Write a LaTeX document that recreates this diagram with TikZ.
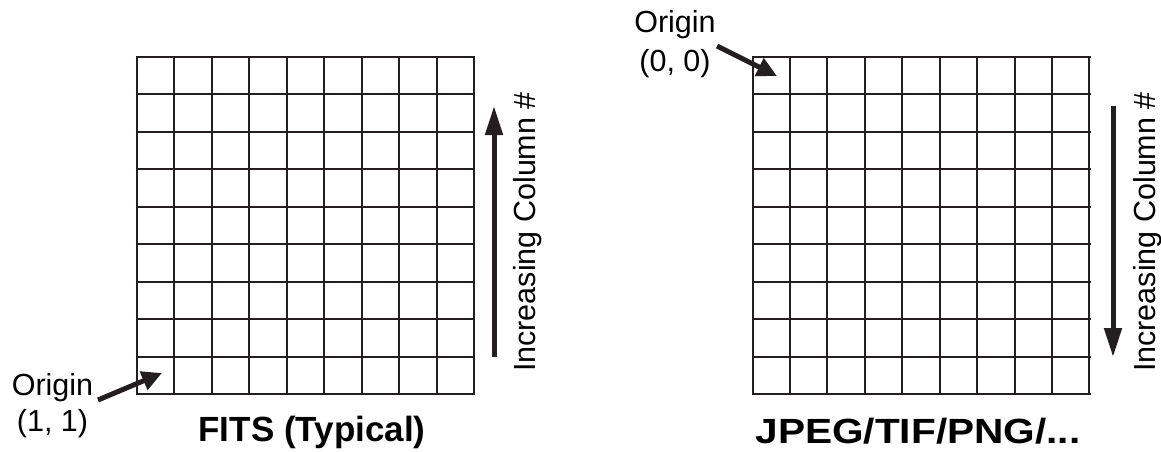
\documentclass[tikz,border=0pt]{standalone}
\usepackage{fontspec}
\setmainfont{Liberation Sans}
\usetikzlibrary{arrows.meta}
\definecolor{ink}{HTML}{231F20}
\begin{document}
\begin{tikzpicture}[x=1pt,y=-1pt,
  gridline/.style={draw=ink,line width=2pt,line cap=rect},
  bigarrow/.style={draw=ink,line width=5pt,-{Triangle[length=29pt,width=17pt]}},
  smallarrow/.style={draw=ink,line width=5pt,-{Triangle[length=20pt,width=19pt]}},
  label/.style={font=\fontsize{30.5}{36}\selectfont,inner sep=0pt,anchor=base,text=black},
  title/.style={font=\fontsize{35}{40}\selectfont\bfseries,inner sep=0pt,anchor=base,text=black}]
\useasboundingbox (0,0) rectangle (1161,452);
% grids
\foreach \gx in {137,752.5}{
  \foreach \k in {0,...,9}{
    \draw[gridline] (\gx+\k*37.44,57) -- (\gx+\k*37.44,394);
    \draw[gridline] (\gx,57+\k*37.44) -- (\gx+337,57+\k*37.44);
  }
}
% left labels
\node[label] (oL) at (52.5,395) {Origin};
\node[label] (oLc) at (52.5,431) {(1, 1)};
\coordinate (oLtail) at (98,400);
\coordinate (oLtip) at (162,373);
\draw[smallarrow] (oLtail) -- (oLtip);
\node[title] (tL) at (312,441) {FITS (Typical)};
\coordinate (aLs) at (494,357);
\coordinate (aLe) at (494,106);
\draw[bigarrow] (aLs) -- (aLe);
\node[label,rotate=90] (cL) at (535,232) {Increasing Column \#};
% right labels
\node[label] (oR) at (675,33) {Origin};
\node[label] (oRc) at (675,71) {(0, 0)};
\coordinate (oRtail) at (717,46);
\coordinate (oRtip) at (777,76);
\draw[smallarrow] (oRtail) -- (oRtip);
\node[title] (tR) at (918,443) {\scalebox{1.16}[1]{JPEG/TIF/PNG/...}};
\coordinate (aRs) at (1113,106);
\coordinate (aRe) at (1113,357);
\draw[bigarrow] (aRs) -- (aRe);
\node[label,rotate=90] (cR) at (1155,232) {Increasing Column \#};
\end{tikzpicture}
\end{document}
